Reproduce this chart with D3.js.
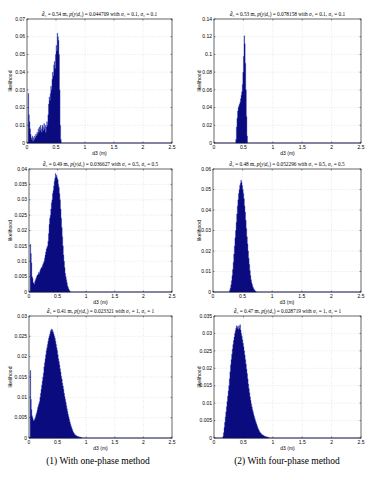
<!DOCTYPE html>
<html>
<head>
<meta charset="utf-8">
<script src="https://cdn.jsdelivr.net/npm/d3@7"></script>
<style>
  body { margin: 0; background: #fff; }
  svg { display: block; }
</style>
</head>
<body>
<div id="chart"></div>
<script>
// histogram bins are 0.01 m wide; each list starts at binStart
const binWidth = 0.01;

const p1Start = 0.02;
const p1Values = [0.028, 0.016, 0.012, 0.008, 0.005, 0.003, 0.002, 0.004, 0.001, 0.003,
  0.002, 0.004, 0.003, 0.005, 0.004, 0.006, 0.005, 0.008, 0.006, 0.009,
  0.007, 0.010, 0.008, 0.006, 0.010, 0.009, 0.007, 0.011, 0.008, 0.010,
  0.006, 0.009, 0.012, 0.010, 0.016, 0.022, 0.026, 0.024, 0.028, 0.032,
  0.030, 0.036, 0.040, 0.038, 0.044, 0.046, 0.042, 0.050, 0.055, 0.052,
  0.062, 0.060, 0.058, 0.050, 0.030, 0.010, 0.002];

const p2Start = 0.37;
const p2Values = [0.004, 0.018, 0.028, 0.036, 0.040, 0.042, 0.044, 0.046, 0.050, 0.054,
  0.058, 0.066, 0.080, 0.098, 0.121, 0.112, 0.090, 0.060, 0.030, 0.008];

const p3Start = 0.02;
const p3Values = [0.0155, 0.0125, 0.0095, 0.0050, 0.0045, 0.0030, 0.0030, 0.0025, 0.0035, 0.0040,
  0.0045, 0.0050, 0.0055, 0.0055, 0.0060, 0.0065, 0.0060, 0.0070, 0.0075, 0.0080,
  0.0078, 0.0085, 0.0090, 0.0095, 0.0100, 0.0110, 0.0120, 0.0130, 0.0140, 0.0145,
  0.0150, 0.0165, 0.0190, 0.0220, 0.0240, 0.0250, 0.0270, 0.0290, 0.0300, 0.0320,
  0.0330, 0.0345, 0.0360, 0.0370, 0.0385, 0.0375, 0.0380, 0.0370, 0.0365, 0.0350,
  0.0340, 0.0320, 0.0300, 0.0270, 0.0240, 0.0210, 0.0180, 0.0150, 0.0120, 0.0100,
  0.0080, 0.0060, 0.0050, 0.0040, 0.0030, 0.0020, 0.0015, 0.0010, 0.0006, 0.0003];

const p4Start = 0.28;
const p4Values = [0.0010, 0.0020, 0.0035, 0.0055, 0.0080, 0.0110, 0.0145, 0.0185, 0.0225, 0.0265,
  0.0300, 0.0340, 0.0380, 0.0420, 0.0450, 0.0480, 0.0500, 0.0520, 0.0530, 0.0545,
  0.0535, 0.0520, 0.0500, 0.0480, 0.0455, 0.0420, 0.0390, 0.0350, 0.0310, 0.0270,
  0.0235, 0.0200, 0.0165, 0.0135, 0.0105, 0.0080, 0.0060, 0.0045, 0.0035, 0.0025,
  0.0018, 0.0012, 0.0008, 0.0005, 0.0003];

const p5Start = 0.02;
const p5Values = [0.0166, 0.0095, 0.0070, 0.0055, 0.0050, 0.0045, 0.0042, 0.0045, 0.0048, 0.0052,
  0.0058, 0.0062, 0.0068, 0.0075, 0.0080, 0.0085, 0.0090, 0.0100, 0.0110, 0.0120,
  0.0130, 0.0140, 0.0150, 0.0160, 0.0175, 0.0185, 0.0195, 0.0205, 0.0215, 0.0222,
  0.0230, 0.0238, 0.0245, 0.0250, 0.0255, 0.0262, 0.0265, 0.0268, 0.0262, 0.0266,
  0.0260, 0.0255, 0.0250, 0.0245, 0.0238, 0.0230, 0.0222, 0.0215, 0.0205, 0.0195,
  0.0188, 0.0180, 0.0170, 0.0162, 0.0152, 0.0145, 0.0135, 0.0128, 0.0120, 0.0110,
  0.0102, 0.0095, 0.0088, 0.0080, 0.0072, 0.0065, 0.0058, 0.0052, 0.0046, 0.0040,
  0.0035, 0.0030, 0.0026, 0.0022, 0.0018, 0.0015, 0.0012, 0.0010, 0.0008, 0.0007,
  0.0006, 0.0005, 0.0004, 0.0004, 0.0003, 0.0003, 0.0002, 0.0002, 0.0002, 0.0001];

const p6Start = 0.15;
const p6Values = [0.0005, 0.0015, 0.0030, 0.0045, 0.0060, 0.0075, 0.0090, 0.0105, 0.0120, 0.0135,
  0.0150, 0.0170, 0.0190, 0.0210, 0.0225, 0.0240, 0.0255, 0.0268, 0.0280, 0.0290,
  0.0300, 0.0308, 0.0315, 0.0322, 0.0315, 0.0320, 0.0312, 0.0322, 0.0315, 0.0325,
  0.0310, 0.0300, 0.0292, 0.0282, 0.0272, 0.0262, 0.0250, 0.0238, 0.0225, 0.0212,
  0.0198, 0.0185, 0.0170, 0.0155, 0.0142, 0.0130, 0.0118, 0.0108, 0.0098, 0.0090,
  0.0082, 0.0075, 0.0068, 0.0062, 0.0056, 0.0050, 0.0045, 0.0040, 0.0035, 0.0030,
  0.0026, 0.0022, 0.0019, 0.0016, 0.0014, 0.0012, 0.0010, 0.0009, 0.0008, 0.0007,
  0.0006, 0.0005, 0.0004, 0.0004, 0.0003, 0.0003, 0.0002, 0.0002];

const xTicks = [0, 0.5, 1, 1.5, 2, 2.5];
const xTickLabels = ["0", "0.5", "1", "1.5", "2", "2.5"];

const yTicks1 = [0, 0.01, 0.02, 0.03, 0.04, 0.05, 0.06, 0.07];
const yTicks2 = [0, 0.02, 0.04, 0.06, 0.08, 0.1, 0.12, 0.14];
const yTicks3 = [0, 0.005, 0.01, 0.015, 0.02, 0.025, 0.03, 0.035, 0.04];
const yTicks4 = [0, 0.01, 0.02, 0.03, 0.04, 0.05, 0.06];
const yTicks5 = [0, 0.005, 0.01, 0.015, 0.02, 0.025, 0.03];
const yTicks6 = [0, 0.005, 0.01, 0.015, 0.02, 0.025, 0.03, 0.035];

// title pieces: estimate, likelihood, sigma
const titleD = ["0.54", "0.53", "0.49", "0.48", "0.41", "0.47"];
const titleP = ["0.044709", "0.078158", "0.036627", "0.052296", "0.023321", "0.028719"];
const titleS = ["0.1", "0.1", "0.5", "0.5", "1", "1"];

const captions = ["(1) With one-phase method", "(2) With four-phase method"];

const panels = [
  { start: p1Start, values: p1Values, yTicks: yTicks1, box: [27, 19, 172, 143] },
  { start: p2Start, values: p2Values, yTicks: yTicks2, box: [214, 19, 361, 143] },
  { start: p3Start, values: p3Values, yTicks: yTicks3, box: [29, 169, 172, 292] },
  { start: p4Start, values: p4Values, yTicks: yTicks4, box: [213, 169, 361, 292] },
  { start: p5Start, values: p5Values, yTicks: yTicks5, box: [29, 316, 172, 438] },
  { start: p6Start, values: p6Values, yTicks: yTicks6, box: [214, 316, 361, 438] }
];

const W = 379, H = 480;
const svg = d3.select("#chart").append("svg")
    .attr("width", W)
    .attr("height", H);

const serif = "'Liberation Serif', 'DejaVu Serif', serif";
const sans = "'Liberation Sans', 'DejaVu Sans', sans-serif";

panels.forEach((p, i) => {
  const [x0, y0, x1, y1] = p.box;
  const yMax = p.yTicks[p.yTicks.length - 1];
  const x = d3.scaleLinear().domain([0, 2.5]).range([x0, x1]);
  const y = d3.scaleLinear().domain([0, yMax]).range([y1, y0]);
  const g = svg.append("g");

  // dotted grid
  g.append("g").selectAll("line").data(xTicks.slice(1, -1)).join("line")
      .attr("x1", d => x(d)).attr("x2", d => x(d))
      .attr("y1", y0).attr("y2", y1)
      .attr("stroke", "#bbb").attr("stroke-width", 0.4)
      .attr("stroke-dasharray", "0.8,1.6");
  g.append("g").selectAll("line").data(p.yTicks.slice(1, -1)).join("line")
      .attr("y1", d => y(d)).attr("y2", d => y(d))
      .attr("x1", x0).attr("x2", x1)
      .attr("stroke", "#bbb").attr("stroke-width", 0.4)
      .attr("stroke-dasharray", "0.8,1.6");

  // histogram as one stepped outline, so the sub-pixel bars don't leave seams
  const bins = p.values.map((v, k) => ({ a: p.start + k * binWidth, v: v }));
  bins.push({ a: p.start + p.values.length * binWidth, v: 0 });
  const area = d3.area()
      .curve(d3.curveStepAfter)
      .x(d => x(d.a))
      .y0(y(0))
      .y1(d => y(d.v));
  g.append("path")
      .datum(bins)
      .attr("d", area)
      .attr("fill", "#0b0b80")
      .attr("stroke", "#2a36b8")
      .attr("stroke-width", 0.35);

  // baseline of the bar plot
  g.append("line")
      .attr("x1", x0).attr("x2", x1)
      .attr("y1", y(0)).attr("y2", y(0))
      .attr("stroke", "#2020a0").attr("stroke-width", 0.6);

  // frame
  g.append("rect")
      .attr("x", x0).attr("y", y0)
      .attr("width", x1 - x0).attr("height", y1 - y0)
      .attr("fill", "none").attr("stroke", "#000").attr("stroke-width", 0.6);

  // inward ticks
  const tl = 1.5;
  g.append("g").selectAll("path").data(xTicks).join("path")
      .attr("d", d => `M${x(d)},${y1}v${-tl}M${x(d)},${y0}v${tl}`)
      .attr("stroke", "#000").attr("stroke-width", 0.4);
  g.append("g").selectAll("path").data(p.yTicks).join("path")
      .attr("d", d => `M${x0},${y(d)}h${tl}M${x1},${y(d)}h${-tl}`)
      .attr("stroke", "#000").attr("stroke-width", 0.4);

  // tick labels
  g.append("g").selectAll("text").data(xTicks).join("text")
      .attr("x", d => x(d)).attr("y", y1 + 6)
      .attr("text-anchor", "middle")
      .style("font-family", sans).style("font-size", "5px")
      .text((d, k) => xTickLabels[k]);
  g.append("g").selectAll("text").data(p.yTicks).join("text")
      .attr("x", x0 - 2).attr("y", d => y(d) + 1.7)
      .attr("text-anchor", "end")
      .style("font-family", sans).style("font-size", "5px")
      .text(d => String(d));

  // axis labels
  g.append("text")
      .attr("x", (x0 + x1) / 2).attr("y", y1 + 12)
      .attr("text-anchor", "middle")
      .style("font-family", sans).style("font-size", "5px")
      .text("d3 (m)");
  const lx = (i % 2 === 0) ? 12 : 201;
  g.append("text")
      .attr("transform", `translate(${lx},${(y0 + y1) / 2}) rotate(-90)`)
      .attr("text-anchor", "middle")
      .style("font-family", sans).style("font-size", "5px")
      .text("likelihood");

  // title
  const t = g.append("text")
      .attr("x", (x0 + x1) / 2).attr("y", y0 - 3)
      .attr("text-anchor", "middle")
      .style("font-family", serif).style("font-size", "5.3px");
  t.append("tspan").style("font-style", "italic").text("d\u0302");
  t.append("tspan").text("\u2083 = " + titleD[i] + " m, ");
  t.append("tspan").style("font-style", "italic").text("p");
  t.append("tspan").text("(");
  t.append("tspan").style("font-style", "italic").text("y");
  t.append("tspan").text("|");
  t.append("tspan").style("font-style", "italic").text("d");
  t.append("tspan").text("\u2083) = " + titleP[i] + " with ");
  t.append("tspan").style("font-style", "italic").text("\u03c3");
  t.append("tspan").text("\u2081 = " + titleS[i] + ", ");
  t.append("tspan").style("font-style", "italic").text("\u03c3");
  t.append("tspan").text("\u2082 = " + titleS[i]);
});

// captions under each column
svg.selectAll(".caption").data(captions).join("text")
    .attr("class", "caption")
    .attr("x", (d, k) => k === 0 ? 98 : 287)
    .attr("y", 464)
    .attr("text-anchor", "middle")
    .style("font-family", serif).style("font-size", "9.5px")
    .text(d => d);
</script>
</body>
</html>
